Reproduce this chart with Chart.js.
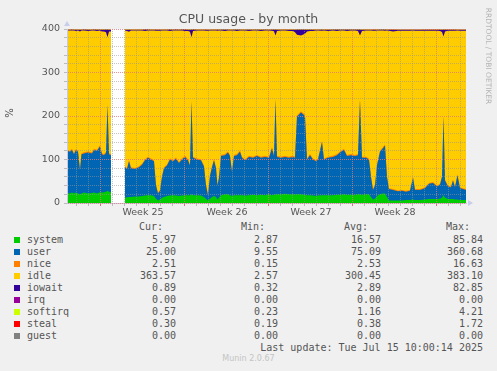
<!DOCTYPE html>
<html>
<head>
<meta charset="utf-8">
<title>CPU usage - by month</title>
<script src="https://cdn.jsdelivr.net/npm/chart.js@4.4.1/dist/chart.umd.min.js"></script>
<style>
  body { margin: 0; background: #f0f0f0; }
  #wrap { position: relative; width: 497px; height: 371px; background: #f0f0f0; font-family: "DejaVu Sans", sans-serif; color: #555; overflow: hidden; }
  #plot { position: absolute; left: 0; top: 0; width: 497px; height: 220px; }
  .t { position: absolute; white-space: pre; }
  .mono { font-family: "DejaVu Sans Mono", monospace; font-size: 10px; line-height: 12px; color: #555; }
  .sq { position: absolute; width: 6px; height: 6px; }
</style>
</head>
<body>
<div id="wrap">
  <div id="plot"><canvas id="chart"></canvas></div>
  <div class="t" style="left:0;width:497px;text-align:center;top:11px;font-size:12.5px;line-height:16px;color:#555;">CPU usage - by month</div>
  <div class="t" style="left:0;top:107px;width:20px;text-align:center;font-size:10px;line-height:12px;transform:rotate(-90deg);color:#555;">%</div>
  <div class="t" style="left:433px;top:51px;width:110px;text-align:center;font-size:7.5px;line-height:10px;transform:rotate(90deg);color:#b4b4b4;">RRDTOOL / TOBI OETIKER</div>
  <div id="legend"></div>
</div>
<script>
// x positions in days from the start of week 25
const days = [-2.833, -2.583, -2.417, -2.25, -2.083, -1.917, -1.75, -1.625, -1.417, -1.083,
  -0.75, -0.583, -0.333, -0.083, 0.083, 0.25, 0.417, 0.542, 0.667, 0.833,
  1.4,
  2.0, 2.167, 2.333, 2.5, 2.833, 3.167, 3.417, 3.667, 3.917, 4.167,
  4.417, 4.583, 4.75, 4.917, 5.083, 5.25, 5.5, 5.75, 6.0, 6.25,
  6.5, 6.75, 7.0, 7.25, 7.417, 7.542, 7.667, 8.0, 8.333, 8.583,
  8.75, 8.917, 9.083, 9.25, 9.417, 9.583, 9.708, 9.833, 10.0, 10.333,
  10.583, 10.75, 10.917, 11.083, 11.333, 11.583, 11.75, 12.0, 12.333, 12.667,
  13.0, 13.333, 13.667, 14.0, 14.25, 14.417, 14.542, 14.667, 15.0, 15.333,
  15.667, 16.0, 16.167, 16.333, 16.667, 17.0, 17.167, 17.417, 17.667, 17.917,
  18.083, 18.417, 18.583, 18.917, 19.333, 19.667, 19.917, 20.25, 20.5, 20.833,
  21.167, 21.417, 21.583, 21.75, 22.083, 22.333, 22.5, 22.667, 22.833, 23.0,
  23.25, 23.5, 23.667, 23.833, 24.0, 24.333, 24.75, 25.083, 25.417, 25.75,
  26.0, 26.167, 26.583, 27.0, 27.333, 27.667, 28.0, 28.25, 28.417, 28.542,
  28.667, 28.917, 29.167, 29.333, 29.5, 29.708, 29.917, 30.167, 30.417];

const system = [23, 22, 24, 22, 24, 22, 20, 22, 24, 22,
  23, 24, 22, 25, 24, 25, 26, 28, 26, 25,
  null,
  12, 13, 14, 14, 15, 15, 16, 17, 18, 18,
  16, 10, 6, 8, 12, 14, 16, 17, 18, 17,
  16, 17, 18, 18, 17, 20, 18, 18, 17, 14,
  10, 6, 10, 14, 16, 14, 8, 12, 18, 20,
  20, 18, 16, 18, 18, 18, 18, 17, 18, 19,
  18, 19, 18, 20, 18, 19, 20, 20, 20, 21,
  20, 20, 20, 20, 20, 19, 18, 18, 17, 16,
  17, 18, 18, 18, 18, 19, 19, 20, 19, 19,
  19, 20, 20, 19, 20, 20, 14, 8, 10, 16,
  20, 22, 22, 14, 6, 6, 6, 6, 7, 7,
  8, 7, 7, 8, 9, 9, 9, 10, 12, 18,
  12, 9, 9, 9, 8, 8, 7, 7, 7];

const user = [97, 96, 98, 90, 98, 96, 56, 90, 90, 94,
  91, 98, 98, 105, 88, 85, 89, 197, 86, 85,
  null,
  70, 65, 82, 66, 63, 67, 72, 81, 86, 82,
  80, 30, 16, 20, 48, 66, 70, 83, 78, 85,
  76, 83, 88, 80, 69, 212, 86, 82, 81, 70,
  30, 12, 52, 68, 82, 66, 32, 46, 90, 90,
  96, 90, 56, 90, 92, 100, 86, 81, 88, 85,
  90, 85, 88, 84, 108, 89, 218, 86, 84, 85,
  84, 86, 84, 178, 188, 181, 82, 92, 83, 80,
  83, 122, 82, 86, 88, 91, 97, 102, 89, 91,
  89, 90, 216, 85, 84, 80, 46, 22, 30, 70,
  98, 104, 110, 46, 26, 24, 21, 22, 19, 21,
  50, 23, 23, 26, 35, 37, 29, 32, 48, 180,
  40, 29, 27, 43, 28, 56, 27, 25, 23];

const nice = [2.5, 2.4, 2.6, 2.5, 2.5, 2.4, 2.3, 2.5, 2.6, 2.5,
  2.5, 2.6, 2.5, 2.7, 2.5, 2.5, 2.6, 3.0, 2.5, 2.5,
  null,
  2.4, 2.4, 2.5, 2.4, 2.4, 2.5, 2.5, 2.6, 2.6, 2.5,
  2.5, 2.2, 2.0, 2.1, 2.3, 2.4, 2.5, 2.6, 2.5, 2.6,
  2.5, 2.6, 2.6, 2.5, 2.4, 3.0, 2.6, 2.5, 2.5, 2.4,
  2.2, 2.0, 2.3, 2.4, 2.5, 2.4, 2.2, 2.3, 2.6, 2.6,
  2.6, 2.5, 2.3, 2.6, 2.6, 2.7, 2.5, 2.5, 2.6, 2.5,
  2.6, 2.5, 2.6, 2.5, 2.8, 2.6, 3.0, 2.5, 2.5, 2.5,
  2.5, 2.5, 2.5, 2.9, 3.0, 2.9, 2.5, 2.6, 2.5, 2.5,
  2.5, 2.8, 2.5, 2.5, 2.6, 2.6, 2.6, 2.7, 2.6, 2.6,
  2.6, 2.6, 3.0, 2.5, 2.5, 2.5, 2.3, 2.1, 2.2, 2.4,
  2.6, 2.7, 2.7, 2.3, 2.1, 2.1, 2.0, 2.1, 2.0, 2.1,
  2.3, 2.1, 2.1, 2.1, 2.2, 2.2, 2.2, 2.2, 2.3, 2.9,
  2.2, 2.1, 2.1, 2.2, 2.1, 2.3, 2.1, 2.1, 2.1];

const idle = [274, 276, 272, 282, 271, 276, 316, 282, 280, 277,
  280, 272, 273, 264, 280, 282, 275, 153, 280, 282,
  null,
  312, 315, 295, 314, 316, 312, 306, 295, 290, 294,
  298, 354, 372, 366, 334, 314, 308, 293, 298, 292,
  302, 294, 287, 295, 305, 146, 289, 294, 296, 310,
  354, 376, 332, 312, 296, 314, 354, 336, 286, 283,
  278, 286, 322, 286, 283, 276, 290, 296, 287, 290,
  286, 289, 288, 290, 267, 284, 144, 287, 290, 288,
  289, 287, 286, 186, 174, 186, 292, 283, 293, 298,
  294, 253, 294, 289, 288, 283, 278, 272, 285, 284,
  286, 283, 146, 289, 290, 294, 334, 364, 354, 308,
  276, 268, 261, 334, 362, 362, 367, 366, 368, 366,
  336, 364, 364, 360, 350, 348, 356, 351, 331, 182,
  340, 356, 358, 342, 358, 330, 360, 362, 364];

const iowait = [2, 2, 2, 2, 3, 2, 4, 2, 2, 3,
  2, 2, 3, 2, 4, 4, 6, 18, 4, 4,
  null,
  2, 3, 5, 2, 2, 2, 2, 3, 2, 2,
  2, 2, 2, 2, 2, 2, 2, 3, 2, 2,
  2, 2, 3, 3, 5, 18, 3, 2, 2, 2,
  2, 2, 2, 2, 2, 2, 2, 2, 2, 3,
  2, 2, 2, 2, 3, 2, 2, 2, 3, 2,
  2, 3, 2, 2, 3, 4, 14, 3, 2, 2,
  3, 3, 6, 12, 14, 10, 4, 3, 3, 2,
  2, 3, 2, 3, 2, 3, 2, 2, 3, 2,
  2, 3, 14, 3, 2, 2, 2, 2, 2, 2,
  2, 2, 3, 2, 2, 4, 2, 2, 2, 2,
  2, 2, 2, 2, 2, 2, 2, 3, 5, 16,
  4, 2, 2, 2, 2, 2, 2, 2, 2];

const softirq = [1.1, 1.1, 1.1, 1.1, 1.1, 1.1, 1.0, 1.1, 1.1, 1.1,
  1.1, 1.1, 1.1, 1.2, 1.1, 1.1, 1.2, 1.5, 1.1, 1.1,
  null,
  1.0, 1.0, 1.1, 1.0, 1.0, 1.0, 1.1, 1.1, 1.1, 1.1,
  1.1, 0.9, 0.8, 0.8, 1.0, 1.0, 1.1, 1.1, 1.1, 1.1,
  1.1, 1.1, 1.1, 1.1, 1.1, 1.6, 1.1, 1.1, 1.1, 1.0,
  0.9, 0.8, 1.0, 1.0, 1.1, 1.0, 0.9, 1.0, 1.2, 1.2,
  1.2, 1.1, 1.0, 1.2, 1.2, 1.2, 1.1, 1.1, 1.2, 1.2,
  1.2, 1.2, 1.2, 1.2, 1.3, 1.2, 1.6, 1.2, 1.2, 1.2,
  1.2, 1.2, 1.2, 1.5, 1.6, 1.5, 1.2, 1.2, 1.2, 1.1,
  1.2, 1.3, 1.2, 1.2, 1.2, 1.2, 1.2, 1.3, 1.2, 1.2,
  1.2, 1.2, 1.6, 1.2, 1.2, 1.2, 1.0, 0.8, 0.9, 1.1,
  1.3, 1.3, 1.3, 1.0, 0.8, 0.8, 0.7, 0.7, 0.7, 0.7,
  0.9, 0.7, 0.7, 0.8, 0.8, 0.8, 0.8, 0.8, 0.9, 1.4,
  0.9, 0.8, 0.8, 0.8, 0.8, 0.9, 0.7, 0.7, 0.6];

const steal = [0.4, 0.4, 0.4, 0.4, 0.4, 0.4, 0.4, 0.4, 0.4, 0.4,
  0.4, 0.4, 0.4, 0.4, 0.4, 0.4, 0.4, 0.5, 0.4, 0.4,
  null,
  0.3, 0.3, 0.3, 0.3, 0.3, 0.3, 0.4, 0.4, 0.4, 0.4,
  0.4, 0.3, 0.3, 0.3, 0.3, 0.4, 0.4, 0.4, 0.4, 0.4,
  0.4, 0.4, 0.4, 0.4, 0.4, 0.5, 0.4, 0.4, 0.4, 0.4,
  0.3, 0.3, 0.3, 0.4, 0.4, 0.4, 0.3, 0.3, 0.4, 0.4,
  0.4, 0.4, 0.4, 0.4, 0.4, 0.4, 0.4, 0.4, 0.4, 0.4,
  0.4, 0.4, 0.4, 0.4, 0.4, 0.4, 0.5, 0.4, 0.4, 0.4,
  0.4, 0.4, 0.5, 1.4, 1.7, 1.5, 0.5, 0.4, 0.4, 0.4,
  0.4, 0.8, 0.4, 0.4, 0.4, 0.4, 0.4, 0.4, 0.4, 0.4,
  0.4, 0.4, 0.5, 0.4, 0.4, 0.4, 0.3, 0.3, 0.3, 0.3,
  0.4, 0.4, 0.4, 0.3, 0.3, 0.3, 0.3, 0.3, 0.3, 0.3,
  0.3, 0.3, 0.3, 0.3, 0.3, 0.3, 0.3, 0.3, 0.3, 0.4,
  0.3, 0.3, 0.3, 0.3, 0.3, 0.3, 0.3, 0.3, 0.3];

// axis marks
const yTicks = [0, 100, 200, 300, 400];
const weekPos = [3.5, 10.5, 17.5, 24.5];
const weekLabels = ['Week 25', 'Week 26', 'Week 27', 'Week 28'];

// legend table
const legendNames = ['system', 'user', 'nice', 'idle', 'iowait', 'irq', 'softirq', 'steal', 'guest'];
const legendColors = ['#00cc00', '#0066b3', '#ff8000', '#ffcc00', '#330099', '#990099', '#ccff00', '#ff0000', '#808080'];
const curValues = ['5.97', '25.00', '2.51', '363.57', '0.89', '0.00', '0.57', '0.30', '0.00'];
const minValues = ['2.87', '9.55', '0.15', '2.57', '0.32', '0.00', '0.23', '0.19', '0.00'];
const avgValues = ['16.57', '75.09', '2.53', '300.45', '2.89', '0.00', '1.16', '0.38', '0.00'];
const maxValues = ['85.84', '360.68', '16.63', '383.10', '82.85', '0.00', '4.21', '1.72', '0.00'];
const lastUpdate = 'Last update: Tue Jul 15 10:00:14 2025';
const footer = 'Munin 2.0.67';

function buildLegend() {
    const box = document.getElementById('legend');
    let html = '';
    const cols = [
        { head: 'Cur:', end: 176, vals: curValues },
        { head: 'Min:', end: 278, vals: minValues },
        { head: 'Avg:', end: 381, vals: avgValues },
        { head: 'Max:', end: 483, vals: maxValues }
    ];
    cols.forEach(c => {
        html += `<div class="t mono" style="right:${497 - c.end + 13}px;top:221px;">${c.head}</div>`;
    });
    legendNames.forEach((name, i) => {
        const yc = 240 + i * 12;
        html += `<div class="sq" style="left:14px;top:${yc - 3}px;background:${legendColors[i]};"></div>`;
        html += `<div class="t mono" style="left:27px;top:${yc - 6}px;">${name}</div>`;
        cols.forEach(c => {
            html += `<div class="t mono" style="right:${497 - c.end}px;top:${yc - 6}px;">${c.vals[i]}</div>`;
        });
    });
    html += `<div class="t mono" style="right:14px;top:342px;">${lastUpdate}</div>`;
    html += `<div class="t" style="left:0;width:497px;text-align:center;top:353px;font-size:8px;line-height:12px;color:#c4c4c4;">${footer}</div>`;
    box.innerHTML = html;
}

const toPoints = (arr) => days.map((d, i) => ({ x: d, y: arr[i] }));

const majorGrid = 'rgba(226, 120, 120, 0.8)';
const minorGrid = 'rgba(150, 150, 150, 0.55)';

// white canvas area plus the small axis arrows
const plotBackground = {
    id: 'plotBackground',
    beforeDraw(chart) {
        const { ctx, chartArea: a } = chart;
        ctx.save();
        ctx.fillStyle = '#ffffff';
        ctx.fillRect(a.left, a.top, a.right - a.left, a.bottom - a.top);
        ctx.restore();
    },
    afterDraw(chart) {
        const { ctx, chartArea: a } = chart;
        ctx.save();
        ctx.fillStyle = '#c8cdea';
        ctx.beginPath();
        ctx.moveTo(a.left - 3, a.top - 3);
        ctx.lineTo(a.left + 3, a.top - 3);
        ctx.lineTo(a.left, a.top - 8);
        ctx.closePath();
        ctx.fill();
        ctx.beginPath();
        ctx.moveTo(a.right + 2, a.bottom - 3);
        ctx.lineTo(a.right + 2, a.bottom + 3);
        ctx.lineTo(a.right + 7, a.bottom);
        ctx.closePath();
        ctx.fill();
        ctx.restore();
    }
};

function makeSet(label, arr, color) {
    return {
        label: label,
        data: toPoints(arr),
        backgroundColor: color,
        borderWidth: 0,
        pointRadius: 0,
        fill: 'origin',
        tension: 0
    };
}

function initChart() {
    Chart.defaults.font.family = '"DejaVu Sans", sans-serif';
    Chart.defaults.color = '#555';

    new Chart(document.getElementById('chart'), {
        type: 'line',
        data: {
            datasets: [
                makeSet('system', system, legendColors[0]),
                makeSet('user', user, legendColors[1]),
                makeSet('nice', nice, legendColors[2]),
                makeSet('idle', idle, legendColors[3]),
                makeSet('iowait', iowait, legendColors[4]),
                makeSet('softirq', softirq, legendColors[6]),
                makeSet('steal', steal, legendColors[7])
            ]
        },
        options: {
            responsive: true,
            maintainAspectRatio: false,
            animation: false,
            devicePixelRatio: 1,
            layout: { padding: { top: 29, right: 31, left: 0, bottom: 0 } },
            plugins: {
                legend: { display: false },
                title: { display: false },
                tooltip: { enabled: false }
            },
            elements: { line: { borderWidth: 0 } },
            scales: {
                x: {
                    type: 'linear',
                    min: -2.833,
                    max: 30.417,
                    afterBuildTicks: (scale) => {
                        const t = [];
                        for (let d = -2; d <= 30; d++) t.push({ value: d });
                        weekPos.forEach(p => t.push({ value: p }));
                        t.sort((a, b) => a.value - b.value);
                        scale.ticks = t;
                    },
                    afterFit: (scale) => { scale.height = 17; },
                    ticks: {
                        autoSkip: false,
                        maxRotation: 0,
                        padding: 1,
                        font: { size: 9.5 },
                        color: '#555',
                        callback: (v) => {
                            const i = weekPos.indexOf(v);
                            return i >= 0 ? weekLabels[i] : '';
                        }
                    },
                    grid: {
                        z: 1,
                        color: (ctx) => {
                            const v = ctx.tick ? ctx.tick.value : 0;
                            if (!Number.isInteger(v)) return 'rgba(0,0,0,0)';
                            return v % 7 === 0 ? majorGrid : minorGrid;
                        },
                        tickColor: (ctx) => {
                            const v = ctx.tick ? ctx.tick.value : 0;
                            if (!Number.isInteger(v)) return 'rgba(0,0,0,0)';
                            return v % 7 === 0 ? '#e07070' : '#bbbbbb';
                        },
                        tickLength: 3,
                        tickBorderDash: [],
                        lineWidth: 1
                    },
                    border: { display: true, z: 1, color: '#c8cbe0', width: 1, dash: [1, 1] }
                },
                y: {
                    stacked: true,
                    min: 0,
                    max: 400,
                    afterFit: (scale) => { scale.width = 67; },
                    ticks: {
                        stepSize: 20,
                        maxTicksLimit: 30,
                        autoSkip: false,
                        padding: 4,
                        font: { size: 9.5 },
                        color: '#555',
                        callback: (v) => (yTicks.includes(v) ? v : '')
                    },
                    grid: {
                        z: 1,
                        color: (ctx) => {
                            const v = ctx.tick ? ctx.tick.value : 0;
                            return v % 100 === 0 ? majorGrid : minorGrid;
                        },
                        tickColor: '#bbbbbb',
                        tickLength: 3,
                        tickBorderDash: [],
                        lineWidth: 1
                    },
                    border: { display: true, z: 1, color: '#c8cbe0', width: 1, dash: [1, 1] }
                }
            }
        },
        plugins: [plotBackground]
    });
}

buildLegend();
initChart();
</script>
</body>
</html>
